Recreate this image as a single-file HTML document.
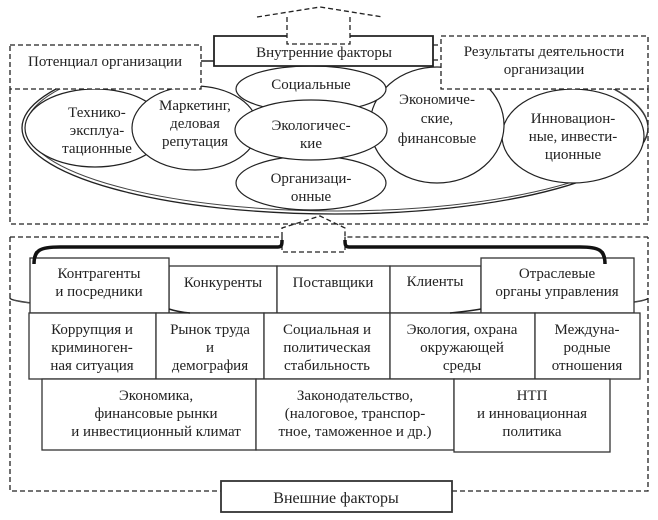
<!DOCTYPE html>
<html><head><meta charset="utf-8"><style>
html,body{margin:0;padding:0;background:#fff;}
svg{display:block;}
text{font-family:"Liberation Serif",serif;font-size:15px;fill:#222;text-anchor:middle;}
</style></head><body>
<svg width="658" height="520" viewBox="0 0 658 520" xmlns="http://www.w3.org/2000/svg">
<!-- big outer ellipse (double) -->
<ellipse cx="335" cy="128" rx="313" ry="86" fill="none" stroke="#222" stroke-width="1.3"/>
<ellipse cx="337" cy="127" rx="311" ry="84" fill="none" stroke="#444" stroke-width="1"/>
<rect x="0" y="0" width="658" height="89" fill="#fff"/>
<g fill="none" stroke="#222" stroke-width="1.3" stroke-dasharray="5,3">
  <polyline points="257,17 320,7 383,17"/>
  <polyline points="10,89 10,224 648,224 648,89 441,89"/>
  <polyline points="433,45 441,45"/><polyline points="433,60 441,60"/>
  <polyline points="10,237 282,237 282,228 320,216 345,228 345,237 648,237"/>
  <polyline points="282,237 282,252 345,252 345,237"/>
  <polyline points="10,237 10,491 221,491"/>
  <polyline points="452,491 648,491 648,237"/>
</g>
<!-- inner ellipses -->
<g fill="#fff" stroke="#222" stroke-width="1.2">
  <ellipse cx="95" cy="128" rx="70" ry="39"/>
  <ellipse cx="573" cy="136" rx="71" ry="47"/>
  <ellipse cx="437" cy="125" rx="67" ry="58"/>
  <ellipse cx="195" cy="128" rx="63" ry="42"/>
  <ellipse cx="311" cy="89" rx="75" ry="23"/>
  <ellipse cx="311" cy="183" rx="75" ry="27"/>
  <ellipse cx="311" cy="130" rx="76" ry="30"/>
</g>
<!-- top boxes -->
<rect x="10" y="45" width="191" height="44" fill="#fff" stroke="#222" stroke-width="1.3" stroke-dasharray="5,3"/>
<rect x="441" y="36" width="207" height="53" fill="#fff" stroke="#222" stroke-width="1.3" stroke-dasharray="5,3"/>
<rect x="214" y="36" width="219" height="30" fill="#fff" stroke="none"/>
<path d="M287,36 H214 V66 H433 V36 H350" fill="none" stroke="#222" stroke-width="1.8"/>
<polyline points="287,17 287,44 350,44 350,17" fill="none" stroke="#222" stroke-width="1.3" stroke-dasharray="5,3"/>
<line x1="201" y1="61" x2="214" y2="61" stroke="#222" stroke-width="1.5"/>
<text x="324" y="57">Внутренние факторы</text>
<text x="105" y="66">Потенциал организации</text>
<text x="544" y="56">Результаты деятельности</text>
<text x="544" y="74">организации</text>
<text x="97" y="117">Технико-</text><text x="97" y="135">эксплуа-</text><text x="97" y="153">тационные</text>
<text x="195" y="110">Маркетинг,</text><text x="195" y="128">деловая</text><text x="195" y="146">репутация</text>
<text x="311" y="89">Социальные</text>
<text x="311" y="130">Экологичес-</text><text x="311" y="148">кие</text>
<text x="311" y="183">Организаци-</text><text x="311" y="201">онные</text>
<text x="437" y="104">Экономиче-</text><text x="437" y="123">ские,</text><text x="437" y="143">финансовые</text>
<text x="573" y="123">Инновацион-</text><text x="573" y="141">ные, инвести-</text><text x="573" y="159">ционные</text>

<!-- lower smile bracket -->
<path d="M10,298 A319,14 0 0 0 648,298" fill="none" stroke="#222" stroke-width="1.6"/>
<path d="M13,299 A316,12 0 0 0 645,299" fill="none" stroke="#555" stroke-width="1"/>
<!-- thick brace -->
<path d="M34,264 C34,250 40,247 60,247 L278,247 C282,247 282,244 282,240" fill="none" stroke="#111" stroke-width="3.5"/>
<path d="M605,264 C605,250 599,247 580,247 L349,247 C345,247 345,244 345,240" fill="none" stroke="#111" stroke-width="3.5"/>

<g fill="#fff" stroke="#333" stroke-width="1.3">
  <rect x="169" y="266" width="108" height="47"/>
  <rect x="277" y="266" width="113" height="47"/>
  <rect x="390" y="266" width="91" height="47"/>
  <rect x="30" y="258" width="139" height="55"/>
  <rect x="481" y="258" width="153" height="55"/>
  <rect x="29" y="313" width="127" height="66"/>
  <rect x="156" y="313" width="108" height="66"/>
  <rect x="264" y="313" width="126" height="66"/>
  <rect x="390" y="313" width="145" height="66"/>
  <rect x="535" y="313" width="105" height="66"/>
  <rect x="42" y="379" width="214" height="71"/>
  <rect x="256" y="379" width="198" height="71"/>
  <rect x="454" y="379" width="156" height="73"/>
  <rect x="221" y="481" width="231" height="31" stroke-width="1.8"/>
</g>
<path d="M34,264 C34,258 35,255 37,252" fill="none" stroke="#111" stroke-width="3.5"/>
<path d="M605,264 C605,258 604,255 602,252" fill="none" stroke="#111" stroke-width="3.5"/>
<path d="M169,309 Q178,312 190,313" fill="none" stroke="#222" stroke-width="1.6"/>
<path d="M450,313 Q470,311 481,309" fill="none" stroke="#222" stroke-width="1.6"/>

<text x="99" y="278">Контрагенты</text><text x="99" y="296">и посредники</text>
<text x="223" y="287">Конкуренты</text>
<text x="333" y="287">Поставщики</text>
<text x="435" y="286">Клиенты</text>
<text x="557" y="278">Отраслевые</text><text x="557" y="296">органы управления</text>

<text x="92" y="334">Коррупция и</text><text x="92" y="352">криминоген-</text><text x="92" y="370">ная ситуация</text>
<text x="210" y="334">Рынок труда</text><text x="210" y="352">и</text><text x="210" y="370">демография</text>
<text x="327" y="334">Социальная и</text><text x="327" y="352">политическая</text><text x="327" y="370">стабильность</text>
<text x="462" y="334">Экология, охрана</text><text x="462" y="352">окружающей</text><text x="462" y="370">среды</text>
<text x="587" y="334">Междуна-</text><text x="587" y="352">родные</text><text x="587" y="370">отношения</text>

<text x="156" y="400">Экономика,</text><text x="156" y="418">финансовые рынки</text><text x="156" y="436">и инвестиционный климат</text>
<text x="355" y="400">Законодательство,</text><text x="355" y="418">(налоговое, транспор-</text><text x="355" y="436">тное, таможенное и др.)</text>
<text x="532" y="400">НТП</text><text x="532" y="418">и инновационная</text><text x="532" y="436">политика</text>

<text x="336" y="503" style="font-size:16px">Внешние факторы</text>
</svg>
</body></html>
